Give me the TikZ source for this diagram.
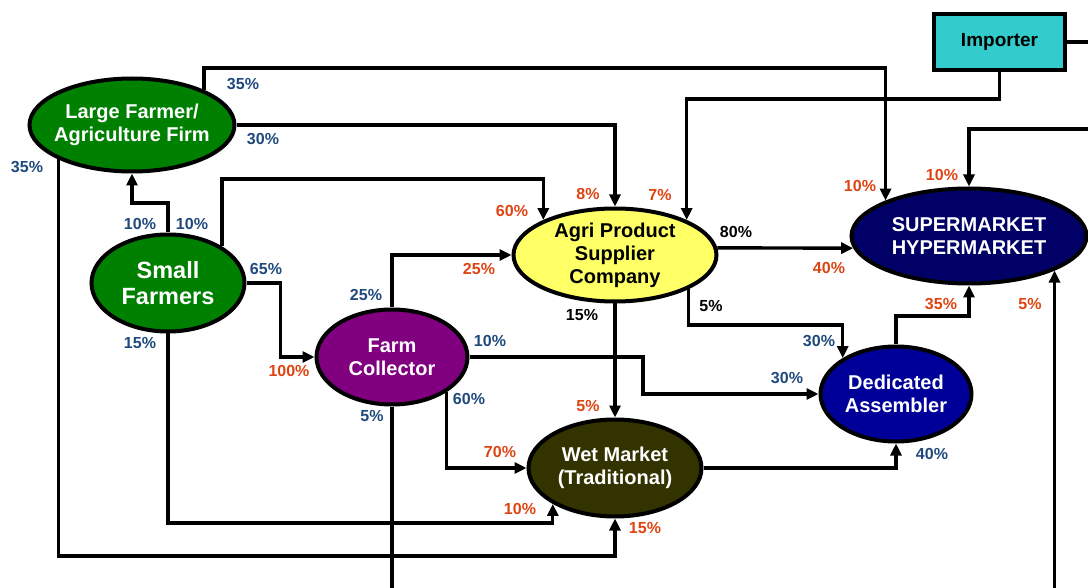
\documentclass[tikz,border=0pt]{standalone}
\usepackage{fontspec}
\setmainfont{Liberation Sans}
\usepackage{tikz}
\usetikzlibrary{shapes.geometric, arrows.meta, calc}
\definecolor{farmgreen}{RGB}{0,128,0}
\definecolor{collectorpurple}{RGB}{128,0,128}
\definecolor{agriyellow}{RGB}{255,255,102}
\definecolor{supernavy}{RGB}{0,0,102}
\definecolor{assemblerblue}{RGB}{0,0,153}
\definecolor{wetolive}{RGB}{51,51,0}
\definecolor{importercyan}{RGB}{51,204,204}
\definecolor{pctblue}{RGB}{31,73,125}
\definecolor{pctred}{RGB}{222,68,18}
\tikzstyle{actor} = [ellipse, draw=black, line width=4pt, inner sep=-8pt, align=center, text=white, font=\fontsize{20}{23}\selectfont\bfseries]
\tikzstyle{flow} = [line width=3.4pt, -{Triangle[length=12pt,width=11pt]}]
\tikzstyle{link} = [line width=3.4pt]
\tikzstyle{pblue} = [text=pctblue, font=\fontsize{16}{16}\selectfont\bfseries, inner sep=0pt]
\tikzstyle{pred} = [pblue, text=pctred]
\tikzstyle{pblack} = [pblue, text=black]

\begin{document}
\begin{tikzpicture}[x=1pt, y=-1pt]
	\useasboundingbox (0,0) rectangle (1088,588);
	% actors
	\node (lf) [actor, fill=farmgreen, minimum width=205, minimum height=93] at (132,125) {Large Farmer/\\Agriculture Firm};
	\node (sf) [actor, fill=farmgreen, minimum width=153, minimum height=97, font=\fontsize{23.5}{26}\selectfont\bfseries] at (168,283) {Small\\Farmers};
	\node (fc) [actor, fill=collectorpurple, minimum width=151, minimum height=95] at (392,357) {Farm\\Collector};
	\node (agri) [actor, fill=agriyellow, text=black, minimum width=203, minimum height=93] at (615,255) {Agri Product\\Supplier\\Company};
	\node (sm) [actor, fill=supernavy, minimum width=235, minimum height=95] at (969,236) {SUPERMARKET\\HYPERMARKET};
	\node (ded) [actor, fill=assemblerblue, minimum width=151, minimum height=95] at (896,394) {Dedicated\\Assembler};
	\node (wet) [actor, fill=wetolive, minimum width=173, minimum height=97] at (615,468) {Wet Market\\(Traditional)};
	\node (imp) [rectangle, draw=black, line width=4pt, fill=importercyan, minimum width=131, minimum height=56, font=\fontsize{19}{22}\selectfont\bfseries] at (999.5,42) {Importer};

	% flows
	\draw[flow] (lf.26) -- (lf.26 |- 0,68) -| (sm.157);
	\draw[flow] (lf.east) -| (agri.north);
	\draw[flow] (lf.205) -- (lf.205 |- 0,556) -| (wet.south);
	\draw[flow] (sf.north) -- (sf.north |- 0,203) -| (lf.south);
	\draw[flow] (sf.34) -- (sf.34 |- 0,179) -| (agri.154);
	\draw[flow] (sf.east) -| ($(sf.east)!0.5!(fc.west)$) |- (fc.west);
	\draw[flow] (sf.south) -- (sf.south |- 0,523) -| (wet.210);
	\draw[flow] (fc.north) |- (agri.west);
	\draw[flow] (fc.east) -| (643,375) |- (ded.west);
	\draw[flow] (fc.-33) |- (wet.west);
	\draw[link] (fc.south) -- (fc.south |- 0,590);
	\draw[flow] (agri.4) -- (sm.186);
	\draw[flow] (agri.south) -- (wet.north);
	\draw[flow] (agri.-25) -- (agri.-25 |- 0,325) -| (ded.146);
	\draw[flow] (imp.south) -- (imp.south |- 0,99) -| (agri.26);
	\draw[link] (imp.east) -- (imp.east -| 1090,0);
	\draw[flow] (1090,129) -| (sm.north);
	\draw[flow] (ded.north) -- (ded.north |- 0,316) -| (sm.south);
	\draw[flow] (sm.-22 |- 0,590) -- (sm.-22);
	\draw[flow] (wet.east) -| (ded.south);

	% shares
	\foreach \n/\x/\y/\t in {1/243/84/35, 2/263/139/30, 3/27/167/35, 4/140/224/10, 5/192/224/10, 6/266/269/65, 7/140/343/15, 8/366/295/25, 9/490/341/10, 10/469/399/60, 11/372/416/5, 12/819/341/30, 13/787/378/30, 14/932/454/40}
		\node (b\n) [pblue] at (\x,\y) {\t\%};
	\foreach \n/\x/\y/\t in {1/289/371/100, 2/479/269/25, 3/512/211/60, 4/588/194/8, 5/660/195/7, 6/860/186/10, 7/942/175/10, 8/829/268/40, 9/941/304/35, 10/1030/304/5, 11/588/406/5, 12/500/452/70, 13/520/509/10, 14/645/528/15}
		\node (r\n) [pred] at (\x,\y) {\t\%};
	\foreach \n/\x/\y/\t in {1/736/232/80, 2/582/315/15, 3/711/306/5}
		\node (k\n) [pblack] at (\x,\y) {\t\%};
\end{tikzpicture}
\end{document}
